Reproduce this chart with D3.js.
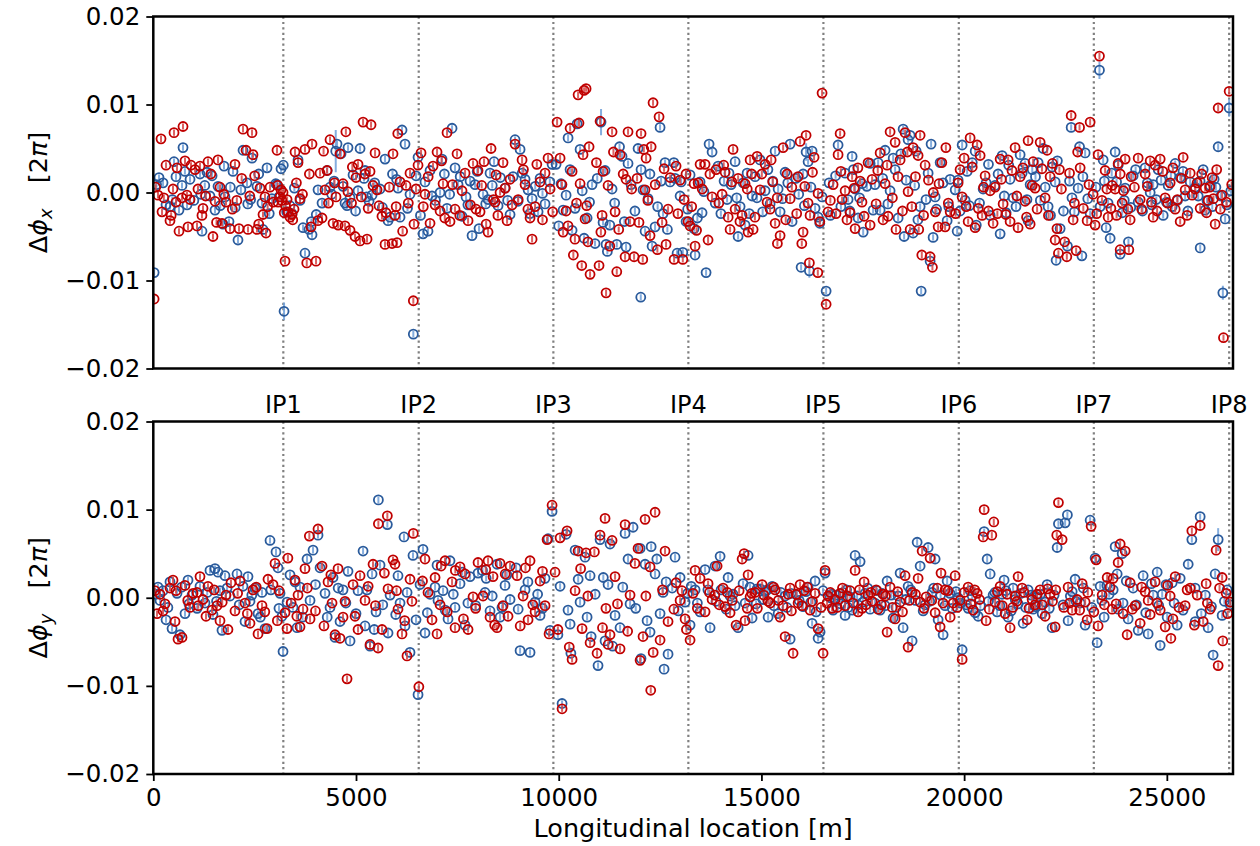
<!DOCTYPE html>
<html>
<head>
<meta charset="utf-8">
<script src="https://cdn.jsdelivr.net/npm/d3@7"></script>
<style>
  body { margin: 0; background: #fff; }
  text { font-family: "DejaVu Sans", sans-serif; }
</style>
</head>
<body>
<div id="chart"></div>
<script>
// IP markers along the ring [m]
const ipLabels = ["IP1", "IP2", "IP3", "IP4", "IP5", "IP6", "IP7", "IP8"];
const ipLocations = [3207, 6547, 9868, 13198, 16529, 19869, 23199, 26537];

const xTicks = [0, 5000, 10000, 15000, 20000, 25000];
const yTicks = [0.02, 0.01, 0.0, -0.01, -0.02];

// [s (m), dphi (1e-3 x 2pi), optional error (1e-3 x 2pi)]
const defaultErr = 0.35;

const dphiXBlue = [
  [20,-9.1],[141,1.7],[240,1.1],[314,-1.4],[412,-1.6],[511,3.5],[560,1.8],[634,-2],[708,0.8],[733,5.1],[832,-1.4],[906,1.5],
  [1152,2.1],[1170,-0.2],[1201,-4.4],[1324,2.3],[1398,-0.4],[1522,-2],[1596,0.7],[1719,-3.6],[1744,3],[1768,-0.5],[1867,-3.3],[1966,2.4],
  [2089,-5.4],[2213,4.8],[2311,1.1],[2330,-1.3],[2435,3.9],[2558,0.7],[2681,-1.2],[2706,-4.2],[2805,2.8],[2928,-0.7],[3051,0.9],[3150,2.7],
  [3020,1.0],[3207,3.1],[3225,-13.5,1],[3372,-1.5],[3422,-2.4],[3570,3.7],[3619,-0.9],[3693,-4],[3742,-6.9],[3841,-4.2],[3915,-4.8],
  [4063,0.3],[4162,-1.2],[4359,0.6],[4458,1.3],[4500,4.7,2.4],[4532,5.5],[4631,4.4],[4729,-1.2],[4779,-1.5],[4803,5.1],[4853,-0.6],[4927,2],
  [5050,0.2],[5100,5],[5198,1.6],[5223,2.5],[5322,-1],[5396,-0.3],[5593,0.4],[5716,3.8],[5790,-3.2],[5840,-2.8],
  [6036,0.5],[6086,-2.8],[6135,7.1],[6209,5.5],[6332,-0.2],[6414,-16.1],[6530,4],[6653,-4.7],[6702,1.2],[6776,-4.4],[6826,2.5],[6875,-0.4],
  [7073,0],[7122,3.8],[7245,-1.8],[7369,7.3],[7443,2.8],[7517,0.9],[7615,-2.7],[7714,-0.5],[7813,1.3],[7862,-4.9],
  [7936,0.9],[8035,-4.1],[8134,-0.2],[8257,-0.8],[8306,2.2],[8405,3.5],[8504,-1.5],[8676,0.5],[8800,-2.5],[8874,1.8],
  [8923,6],[8997,-1],[9047,4.9],[9170,1.5],[9244,0.3],[9343,-0.7],[9491,-2.2],[9540,1.6],[9663,-1.3],[9836,3.2],
  [9935,3.2],[10058,1],[10108,-2],[10182,-0.3],[10231,6.2],[10330,-4.3],[10404,-1.8],[10453,7.8],[10527,4.9],[10626,-5.2],[10700,-2.9],[10823,0.9],
  [10896,-5.8],[11044,8,1.5],[11094,-3.4],[11143,2.5],[11168,-5.9],[11200,-6.7],[11316,0.4],[11432,-5.9],[11562,4.1],[11661,-6.2],[11710,3.3],[11784,0.9],
  [11957,5],[12024,-11.9],[12031,2.6],[12130,-4.4],[12204,-0.7],[12303,-6.1],[12377,-3.9],[12500,7.4],[12525,1.3],[12574,-2.4],[12623,3.4],[12747,1.2],
  [12870,1.6],[12920,-6.9],[12994,-0.4],[13061,-6.8],[13142,-3.3],[13240,2],[13339,-4.1],[13364,-7.1],[13487,1.2],[13536,-2.3],[13635,-9.1],[13709,5.5],[13783,4.6],
  [13931,3],[14079,1.3],[14153,-0.8],[14252,0.9],[14351,3.5],[14425,-5],[14474,-1.6],[14597,-3.7],[14647,2.2],[14770,-0.4],
  [14844,1.8],[14968,3.7],[15091,0.2],[15214,-1.3],[15338,4.7],[15412,0.4],[15461,-2.2],[15584,2.3],[15708,5.5],[15757,-3.3],
  [15979,-8.5],[16028,2.1],[16102,4.6,1],[16151,3.5],[16183,-8.9,0.8],[16250,4.7],[16324,-1.8],[16398,-2.8],[16496,-0.5],[16596,-11.2],[16669,1.1],
  [16891,5.4],[17064,2.2],[17138,-0.8],[17237,4.1],[17311,0.4],[17385,-2.9],[17484,1],[17510,-4.5],[17681,3.3],[17755,-2],
  [17878,3.4],[17928,-2],[18051,4.8],[18174,0.2],[18298,2.6],[18372,-2.9],[18495,7.2],[18520,-5],[18618,6],[18668,6.5],[18742,-4.6],
  [18816,4.7],[18915,-1.6],[18940,-11.2],[19112,2.2],[19161,-7.8],[19185,5.5],[19235,-5.1],[19285,-0.5],[19408,3.4],[19581,-3.2],[19655,1.5],
  [19828,-4.4],[19852,1.4],[19951,5.4],[20025,-0.9],[20074,2.4],[20272,4.7],[20300,-3.7],[20469,0.4],[20543,1.1],[20642,-2.6],
  [20838,2.1],[20888,-4.7],[20937,4.2],[21036,-2.3],[21134,1.5],[21208,-0.6],[21381,4.3],[21504,3.3],[21578,-3.2],[21628,0.9],
  [21825,3.4],[21949,5],[22072,-1.6],[22171,2.9],[22245,1.2],[22269,-7.7],[22368,-4.1],[22548,-6.1],[22640,7.4],[22660,-0.6],
  [22812,0.5],[22847,5.2],[22904,-7.2],[22985,4.5],[23108,-2.4],[23338,13.9,1],[23355,-1.6],[23429,3.7],[23503,-4],[23602,-5.2],
  [23725,4.6],[23799,3.1],[23849,-7],[23898,-2.3],[23972,0.5],[24053,-5.6],[24169,1.9],[24293,-1.1],[24465,2.8],[24589,0],[24663,0.9],
  [24786,2.6],[24910,-2.6],[25033,0.8],[25132,-1.6],[25206,3.3],[25329,1.7],[25452,-0.4],[25576,1.2],[25823,-6.3],
  [25773,-0.4],[25896,2.6],[25945,-2],[26068,0.8],[26167,1.5],[26266,5.2],[26382,-11.4,0.8],[26438,-3],[26537,9.6,1],
  [80,0.9],[470,-0.8],[780,2.4],[1000,-0.9],[1270,0.8],[1450,1.9],[1650,-1.5],[1900,0.6],
  [2020,-1.7],[2160,0.3],[2400,-0.8],[2600,2.1],[2860,-2.4],[3100,-0.5],[3290,-2.2],[3480,0.5],[3900,-3.3],
  [4020,-2.5],[4290,2.5],[4400,-0.2],[4680,0.7],[4990,-2.1],[5260,-0.5],[5460,1.1],[5650,-1.7],[5900,2.1],
  [6000,1.5],[6270,-1.8],[6480,1.9],[6590,-2.6],[6960,-0.9],[7180,2.1],[7310,-0.2],[7570,1.8],[7760,-1.4],
  [7990,2.4],[8200,-1.3],[8360,0.8],[8560,1.7],[8740,-0.9],[9100,2.2],[9290,-2.4],[9420,0.7],[9600,-0.1],[9780,1.2],
  [10000,-3.8],[10280,2.6],[10580,0.2],[10760,-1.1],[10950,1.6],[11260,-3.7],[11380,-1.2],[11500,5.2],[11620,-3.3],
  [11880,-2.1],[12080,0.3],[12250,2.1],[12440,-1.6],[12680,-4.2],[12840,3.4],[13020,1.2],[13180,-1.9],[13420,-2.9],[13580,0.1],
  [13860,-1.2],[14000,-2.4],[14200,2.2],[14390,-0.6],[14550,1.1],[14700,-2.4],[14890,-0.6],[15030,-2.2],[15160,2.6],[15280,1.3],[15520,-0.7],[15650,1.1],
  [15850,1.6],[15920,-0.2],[16060,-1.5],[16220,0.6],[16440,-3.5],[16700,-2.6],[16830,1.9],[16960,-1.6],[17180,-2.1],[17270,2.6],[17420,-0.6],[17600,0.7],
  [17800,0.9],[17990,1.6],[18120,-1.3],[18250,3.9],[18440,4.4],[18570,1.4],[18780,0.8],[18860,-3.1],[19060,-0.8],[19320,-1.9],[19480,1.1],[19620,-1.6],
  [19780,0.3],[19900,-2.1],[20130,-1.5],[20200,3.4],[20380,-1.2],[20600,3.2],[20760,0.8],[20990,-0.4],[21100,3.1],[21280,-1.6],[21430,2.2],[21550,-0.8],[21680,2.6],
  [21760,1.8],[21880,-0.9],[22000,0.6],[22130,-2.6],[22300,3.6],[22450,-2.1],[22600,1.3],[22720,-2.2],[22930,1.8],[23050,-0.7],[23250,0.6],[23460,1.3],[23550,-1.2],[23640,2.2],
  [23760,1.2],[23950,-0.9],[24110,-1.7],[24230,2.6],[24400,-2.1],[24520,1.1],[24630,-1.4],[24740,-0.8],[24860,1.4],[24990,-1.1],[25100,1.9],[25260,-0.9],[25400,2.4],[25520,-2.1],[25700,0.6],
  [25820,1.3],[25990,-0.9],[26120,-1.6],[26210,0.6],[26330,-0.4],[26480,-1.4],[26580,0.2]
];

const dphiXRed = [
  [20,-12.1],[116,-0.3],[190,6.1],[215,-2.2],[314,3.1],[412,-3.2],[486,0.4],[511,6.8],[585,2.8],[634,-4.4],[708,-0.6],[733,7.5],[782,3.6],[856,-3.9],[906,-0.8],[930,3.1],
  [1078,-3.8],[1102,0.4],[1152,3],[1226,-1.8],[1349,3.5],[1472,-5],[1522,-1],[1596,3.7],[1645,0.6],[1694,-3.5],[1793,-1.1],[1892,-4.1],[2015,3.2],
  [2114,-4.1],[2213,7.2],[2287,4.8],[2336,-4.2],[2435,6.8],[2459,4.3],[2558,-4.2],[2632,0.5],[2706,-2.5],[2755,-0.5],[2780,-4.6],[2879,0.6],[3051,4.8],
  [3070,0.8],[3077,-1.1],[3126,-0.5],[3150,0.3],[3200,0],[3249,-7.8],[3260,-1.5],[3323,-2.2],[3372,-2.8],[3422,-2.5],[3471,-1.9],[3496,4.6],[3570,3.4],[3619,-0.7],[3742,4.9],[3785,-8],[3890,-3.9],[3915,5.5],
  [4014,-7.8],[4113,2.2],[4162,-2.9],[4236,0.3],[4285,2.5],[4359,6],[4433,-3.5],[4507,-0.5],[4606,4.4],[4680,1],[4729,-3.8],[4750,6.9],[4853,-4.3],[4890,-1.2],[4910,2.9],
  [4976,-5],[5050,3.2],[5100,-5.5],[5174,8],[5272,-5.3],[5346,2.4],[5371,7.7],[5470,4.5],[5519,0.3],[5568,-1.5],[5716,-5.9],[5740,-2.3],[5889,-5.8],[6012,-5.7],
  [5913,4.4],[5962,-2.6],[6030,6.7],[6086,1.2],[6234,0.8],[6332,2.2],[6414,-12.3],[6430,-3.6],[6530,3.1],[6604,4.5],[6702,-0.2],[6826,-3.5],[6900,3],
  [6999,4.6],[7073,-2.1],[7147,1],[7245,6.8],[7319,-3.3],[7443,-1.9],[7492,4.4],[7615,0.2],[7690,2.2],[7764,-3.2],[7887,3.3],
  [8010,2.5],[8060,-2.2],[8158,3.5],[8257,-4.5],[8331,5],[8430,-1.1],[8455,2],[8553,0],[8627,3.4],[8726,-3.2],[8800,1.5],
  [8923,5.5],[9096,3.7],[9170,0.9],[9293,-2.9],[9343,-5.3],[9417,-1.6],[9540,1.2],[9663,2.2],[9737,3.9],[9787,0.4],[9960,8],
  [10034,3.9],[10108,-4.5],[10182,-2.1],[10281,7.3],[10330,2.4],[10361,-7.1],[10400,-5.3],[10478,11.1],[10500,7.9],[10527,1],[10568,-8.3],[10626,11.6],[10650,-3],[10675,11.8],[10690,-1.5],[10749,5.2],[10773,-9.3],
  [10995,-8.3],[11020,8.1],[11040,-4.5],[11094,2.4],[11168,-11.4],[11217,0.8],[11316,6.9],[11390,-2.2],[11432,-9],[11513,4.3],[11637,-7.3],[11660,1.5],[11710,6.9],[11760,-3.3],[11859,-7.3],
  [11933,1.6],[12031,6.7],[12073,-7.6],[12130,0.3],[12155,3.9],[12253,-4.9],[12280,5.2],[12327,10.2],[12434,-6.5],[12475,8.6],[12599,2.7],[12648,-5.9],[12697,-1.9],
  [12846,-7.6],[12895,3],[12994,1.4],[13061,-7.6],[13092,-0.8],[13191,-3.3],[13240,-3.8],[13339,1],[13364,-6.1],[13438,1.1],[13487,3.2],[13610,3.2],[13684,-5.4],[13783,-0.5],
  [13882,2.6],[14030,-0.2],[14104,2.3],[14227,-4.2],[14301,4.9],[14351,-1.9],[14425,1.6],[14524,-2.6],[14597,1],[14671,-4.5],[14721,3.7],[14795,-4.2],
  [14894,4.1],[14968,0.3],[15091,3.2],[15214,-1.9],[15240,3.7],[15338,-3.5],[15394,-5.8],[15461,-4.9],[15535,5.1],[15634,2.1],[15708,-0.7],
  [15904,1.8],[15954,5.8],[15996,-5.8],[16028,-4.5],[16102,6.5],[16183,-8],[16200,-2.6],[16299,4],[16391,-9.1],[16398,-0.1],[16496,11.3],[16596,-12.7],[16644,-2.2],[16768,0.9],
  [16891,4.3],[16941,6.7],[16990,-0.8],[17064,0.2],[17187,-2.3],[17237,1.8],[17311,-4.1],[17434,1.3],[17533,-2.7],[17631,3.4],[17681,-3.7],
  [17829,-1.3],[17928,4.5],[18051,1],[18125,-2.7],[18174,6.9],[18298,5.7],[18320,-4.2],[18421,3.7],[18544,6.8],[18618,0.1],[18668,-4.2],[18742,5.1],
  [18865,4.2],[18915,6.5],[18956,-7.1],[19038,3.1],[19161,-7.3],[19218,-8.5],[19240,0],[19359,-3.9],[19380,1],[19531,-3.9],[19550,5.1],[19655,-2.2],
  [19852,1.1],[19951,-0.5],[20000,3.9],[20099,-3.3],[20148,6.2],[20272,-4],[20321,5.4],[20395,4.2],[20444,-2.6],[20518,1.9],[20642,0.2],[20715,-3.5],
  [20764,0.6],[20888,3.8],[20962,-1.3],[21085,3.7],[21134,-3.3],[21257,5.1],[21331,-4],[21381,1.8],[21504,-1],[21578,5.9],[21628,-3.6],[21702,3.5],
  [21751,0.5],[21875,5.7],[21998,-0.6],[22047,4.8],[22121,1.8],[22245,-5.4],[22326,-6.9],[22350,2.6],[22533,-7.3],[22640,8.75],[22689,-3.1],
  [22763,-6.6],[22847,7.4],[22862,2.8],[23034,-3.2],[23108,8],[23182,-0.2],[23231,-3.7],[23305,4.3],[23338,15.5],[23478,2.5],[23552,-2.8],[23651,0.8],
  [23725,0.4],[23799,3.3],[23849,-6.5],[23898,-1.2],[23972,3.8],[24063,-6.5],[24095,-3.1],[24120,1.8],[24293,3.9],[24342,-0.8],[24465,2.1],[24589,3.6],[24663,-2.8],
  [24712,3.1],[24836,3.8],[24959,-0.6],[25082,1.1],[25206,-1.9],[25329,-3.3],[25403,4],[25452,0.3],[25576,2.2],[25625,-0.3],
  [25748,1.1],[25822,-1.8],[25945,0.5],[26019,-0.9],[26118,1.7],[26192,-3.6],[26266,9.6],[26364,-0.3],[26397,-16.5],[26537,11.5],
  [60,0.6],[260,-0.6],[440,-2.6],[560,-1.1],[830,-0.3],[1030,2.6],[1200,-2.6],[1290,-0.4],[1420,2.1],[1560,-3.4],[1740,-0.2],[1950,-1.9],
  [2060,-0.9],[2180,1.6],[2380,-0.4],[2500,1.9],[2600,-3.6],[2820,-1.6],[2960,-1.1],[3170,-0.9],[3230,-2.3],[3300,-0.8],[3440,-3.1],[3530,1.1],[3680,-0.2],[3850,2.1],
  [4060,-3.2],[4200,4.7],[4320,-1.2],[4470,1.1],[4560,-3.7],[4800,0.1],[5000,1.7],[5130,-0.5],[5220,2.1],[5300,-1.8],[5420,0.8],[5640,-2.7],[5820,0.6],
  [5990,-1.6],[6150,-4.4],[6290,-1.2],[6480,0.4],[6660,-1.6],[6780,1.8],[6950,-1.4],[7110,3.6],[7190,-2.9],[7380,0.9],[7560,-2.6],[7820,-1.4],
  [7960,-1.9],[8100,0.8],[8210,-3.6],[8390,-0.8],[8500,-2.6],[8680,0.5],[8850,-1.4],[9000,-0.8],[9130,2.6],[9240,-1.9],[9460,3.2],[9600,-3.1],[9850,-2.2],
  [10080,0.9],[10230,-3.8],[10440,-1.2],[10600,4.3],[10720,-5.6],[10930,3.4],[11070,-2.6],[11260,-6.1],[11350,4.6],[11480,-4.2],[11590,2.1],[11800,0.4],
  [11980,-3.4],[12100,4.9],[12200,-0.9],[12380,0.9],[12550,-3.4],[12750,1.7],[12940,-2.4],[13140,2.1],[13280,-1.6],[13400,-4.3],[13540,0.4],[13730,2.1],
  [13950,-1.2],[14070,3.1],[14180,-2.8],[14270,1.2],[14470,-3.3],[14650,0.4],[14760,2.1],[14840,-2.8],[15010,2.1],[15140,-1.1],[15280,1.2],[15390,-0.6],[15600,-3.1],[15750,0.6],
  [15870,-2.4],[16070,0.7],[16150,-1.2],[16260,2.3],[16440,-3.3],[16700,-0.9],[16840,-2.4],[16960,2.4],[17110,-3.1],[17290,0.5],[17380,2.8],[17480,-1.1],[17730,1.5],
  [17870,2.5],[18000,-3.1],[18100,3.1],[18230,-0.6],[18370,1.8],[18480,-2.1],[18600,4.6],[18710,-1.6],[18800,1.8],[18880,-4.2],[19000,-2.6],[19120,1.4],[19290,-2.2],[19450,3.4],[19610,-1.2],
  [19790,-2.4],[19900,2.6],[20050,-1.6],[20200,2.9],[20350,-1.8],[20480,0.6],[20600,-2.1],[20820,-2.4],[20920,1.5],[21030,-2.5],[21180,2.5],[21300,-0.4],[21450,2.8],[21540,-2.8],[21680,0.8],
  [21800,-1.9],[21920,2.7],[22080,-2.6],[22180,3.3],[22290,-4.1],[22400,0.4],[22480,-5.6],[22600,2.2],[22720,-1.2],[22800,4.6],[22940,-1.8],[23080,0.9],[23270,-2.4],[23400,-0.9],[23520,0.4],[23620,-1.8],
  [23760,-2.6],[23850,2.1],[23930,0.2],[24040,-1.9],[24200,0.6],[24380,-1.9],[24520,0.7],[24620,-1.1],[24760,-2.1],[24900,2.4],[25020,-1.2],[25150,2.8],[25260,-0.8],[25360,1.6],[25500,-2.6],[25700,0.4],
  [25860,2.1],[25980,-2.3],[26060,0.6],[26150,-0.7],[26230,2.6],[26320,-1.9],[26470,-1.1],[26600,0.9]
];

const dphiYBlue = [
  [116,1.2],[166,-0.3],[240,0.8],[314,-2.5],[412,1.8],[462,-3.5],[585,0.5],[659,-4.2],[782,-1.8],[856,2],[955,0.3],
  [1152,1.3],[1275,-0.6],[1398,3.1],[1472,-1.9],[1522,3.3],[1596,2.9],[1645,0.8],[1694,-3.7],[1768,2.5],[1892,0.2],
  [2065,2.7],[2213,1.3],[2262,-2.7],[2336,2.4],[2385,-0.4],[2509,1.1],[2583,-1.8],[2681,0.6],[2755,-3.5],[2879,6.5],
  [3027,5.2],[3076,3.4],[3126,0.5],[3175,-2.1],[3200,-6.1],[3372,2.6],[3446,-1.1],[3496,1.8],[3545,-3.4],[3619,1.2],[3792,4.4],[3866,-0.3],
  [3940,5.4],[4063,7.1],[4113,3.4],[4236,0.5],[4359,-1.1],[4433,2.3],[4483,-4.5],[4606,-2.7],[4680,0.9],[4803,3],[4853,-4.9],
  [5050,0.8],[5174,5.3],[5223,-3.2],[5346,-5.5],[5396,2.7],[5494,-1.6],[5552,11.1],[5593,3.7],[5773,8.3],[5790,-4],[5840,0.3],
  [6036,2.5],[6086,-0.6],[6184,6.9],[6209,-3.2],[6332,-6.2],[6406,4.8],[6530,-11],[6579,1.5],[6653,5.5],[6702,-4],[6826,0.4],
  [6999,3.7],[7023,-0.3],[7147,0.8],[7270,-2.4],[7319,4.2],[7443,-1.1],[7566,1.6],[7690,-3.1],[7813,2.4],
  [8010,2.8],[8183,0.6],[8210,2.2],[8306,-1.5],[8479,3.8],[8553,-2.2],[8676,1.4],[8800,-0.2],
  [8948,3.4],[9047,-6],[9170,0.9],[9293,-6.2],[9417,-0.5],[9540,-2],[9663,2.2],[9737,6.7],[9787,-3.7],[9836,9.8],
  [10034,1.3],[10083,-12],[10182,7.2],[10281,-3],[10300,-6.3],[10404,5.4],[10527,-0.5],[10650,4.6],[10774,2.5],[10800,-4.4],
  [10970,-7.7],[11020,6.6],[11143,-4.9],[11217,1.5],[11266,6.1],[11390,-2],[11513,-3.4],[11637,7.3],[11710,4.4],[11760,-0.7],
  [11834,8],[12007,5.6],[12030,-6.9],[12130,3.8],[12253,-3.9],[12280,5.8],[12377,2.7],[12500,-1.8],[12574,0.6],[12697,-6.4],
  [12599,-8.1],[12870,4.6],[12994,2.3],[13117,-0.5],[13240,-3.1],[13270,1.3],[13364,0.9],[13487,-1.6],[13610,3.2],[13734,-3.4],
  [13857,3.6],[13981,4.7],[14178,2.3],[14227,0.2],[14351,-0.9],[14425,-3.4],[14548,1.6],[14671,4.8],[14770,-2.3],
  [14894,1],[14968,1],[15091,0.7],[15165,-2.2],[15264,1.3],[15412,-1.8],[15584,0.2],[15708,-4.7],[15730,0.5],
  [15880,0.3],[16028,-1],[16151,1.2],[16250,-2.9],[16324,1.9],[16398,-4.6],[16447,-3.9],[16570,2.8],[16694,0],[16768,-1.4],
  [16891,-0.3],[17015,0.6],[17064,-2],[17138,-1.1],[17187,0.1],[17311,4.8],[17385,-0.8],[17434,4.1],[17557,0.5],[17681,-1.3],
  [17854,0.8],[17928,-1.4],[18100,1.9],[18248,-2.3],[18372,0.2],[18421,2.8],[18495,-3.4],[18618,1.3],[18717,-4.9],
  [18841,6.3],[18915,3.6],[19038,-0.8],[19112,5.7],[19211,0.6],[19285,4.4],[19359,-2.5],[19482,-4.2],[19581,1.9],[19704,-1.2],
  [19852,0],[19951,-5.9],[20050,-0.8],[20148,0.8],[20272,-1.7],[20346,-2.1],[20494,7.5],[20568,4.4],[20642,2.7],[20715,0.3],
  [20814,-1.6],[20937,0.4],[20986,2],[21085,-2.2],[21208,1.1],[21331,-0.7],[21455,-2.9],[21578,0.9],[21702,-1.3],
  [21801,0.1],[21924,-1.8],[22047,1.5],[22171,-3.4],[22294,5.7],[22326,8.4],[22491,8.5],[22547,9.4],[22565,-2.6],[22664,0.7],
  [22738,2.1],[22862,-0.6],[22985,-3.1],[23108,8.8],[23231,4.5],[23281,-5.1],[23355,1.3],[23453,-2.2],[23577,0.4],[23676,0.9],
  [23725,5.8],[23775,2.7],[23898,5],[23920,-0.6],[24046,-2.4],[24169,1.1],[24293,-3.7],[24416,2.5],[24539,-4.1],[24663,0.3],
  [24762,2.9],[24836,-5.4],[24885,0.4],[25008,-2.2],[25132,1.7],[25255,-3.1],[25329,2.2],[25527,3.8],[25617,6.6],
  [25698,1.1],[25822,9.2],[25850,-1.8],[26019,-3.4],[26142,-6.5],[26192,2.7],[26266,6.6,1.3],[26364,-2],[26488,0.9],[26562,-0.8],
  [60,0.4],[360,-1.1],[700,1.2],[880,-0.7],[1080,-1.2],[1330,0.6],[1560,-0.4],[1820,1.1],[2120,-0.8],[2430,0.3],[2640,-2.2],[2900,0.9],
  [3100,-1.2],[3300,-0.5],[3680,-2.2],[4000,1.5],[4290,-2.2],[4560,1.1],[4750,-0.6],[5000,-1.8],[5270,0.9],[5450,-3.6],[5660,-0.8],
  [5980,-1.9],[6260,0.6],[6480,-2.5],[6760,-1.7],[6950,1.2],[7200,-1.4],[7400,0.4],[7620,2.9],[7760,-0.6],
  [7950,-0.9],[8120,3.1],[8360,0.2],[8600,-1.1],[8720,2.6],[9000,-1.3],[9240,1.8],[9480,0.4],[9600,-1.2],
  [9980,-4.2],[10230,-1.4],[10480,2.1],[10700,-2.2],[10900,0.4],[11100,2.3],[11330,-5.5],[11580,1.2],
  [11900,-1.2],[12180,-2.6],[12420,4.4],[12650,1.8],[12800,1.1],[12950,-1.5],[13180,0.5],[13420,-0.6],[13680,0.9],
  [13880,-0.4],[14005,0.9],[14130,-1.3],[14300,0.4],[14600,-0.6],[14720,1.2],[14870,-0.7],[15040,-0.2],[15140,0.9],[15310,-0.9],[15480,0.6],[15630,-1.1],
  [15930,-0.3],[16100,0.7],[16220,-0.5],[16350,-1.6],[16520,0.8],[16740,0.4],[16840,0.3],[16960,-0.7],[17100,0.9],[17240,-1.4],[17360,0.2],[17500,-0.5],[17620,1.1],
  [17800,-0.6],[17980,0.5],[18050,-0.9],[18200,0.3],[18320,-1.1],[18560,-0.2],[18680,0.9],[18800,-0.3],[18990,-1.5],[19150,-0.4],[19250,1.1],[19420,0.3],[19530,-0.9],[19650,0.5],
  [19800,0.7],[19900,-0.6],[20100,-1.2],[20200,0.2],[20400,-0.9],[20600,-0.4],[20760,0.6],[20880,-0.9],[21030,0.8],[21160,-1.5],[21260,-0.2],[21400,0.5],[21520,-1.1],[21650,0.3],
  [21760,-1],[21880,0.4],[22000,-0.5],[22100,-1.2],[22220,0.3],[22440,-0.8],[22620,0.2],
  [22760,-0.4],[22940,1.1],[23150,-1.1],[23400,-0.3],[23520,1.4],[23800,-1.3],[24000,1.9],[24250,-0.8],[24480,-1.7],[24620,1.6],
  [24800,-0.9],[24980,1.5],[25180,-0.6],[25400,-1.4],[25700,-2.7],[25950,0.3],[26100,-1],[26420,-0.4]
];

const dphiYRed = [
  [92,-1.8],[166,0.4],[289,-0.7],[412,1.1],[486,2],[536,-2.7],[610,-4.7],[708,-4.5],[782,1.4],[906,-1.1],[980,0.5],
  [1078,0.6],[1152,2.4],[1226,-0.2],[1349,1.3],[1448,-1.4],[1571,-0.9],[1645,-2.6],[1793,0.3],[1842,-3.6],[1916,1.7],
  [2015,-1.5],[2139,1.9],[2262,-0.6],[2385,-2.9],[2459,0.9],[2583,-4.1],[2681,-0.9],[2805,-3.5],[2829,2.1],[2953,1.5],
  [3002,3.9],[3101,0.8],[3249,-1.7],[3298,-3.5],[3320,4.5],[3496,2],[3570,0.3],[3619,-3.3],[3693,-1.3],[3742,3.3],[3849,7],[3866,-2.4],
  [4063,7.8],[4162,3.6],[4310,1.8],[4409,-0.6],[4483,-4.2],[4557,3.3],[4606,-4.6],[4729,-0.4],[4779,-9.2],[4927,1.5],
  [4976,-2.1],[5100,2.5],[5223,-0.3],[5346,-5.3],[5420,3.8],[5544,-5.7],[5552,8.4],[5642,-3.6],[5773,9.3],[5790,1],[5913,4.3],
  [5962,3.8],[6036,-1.3],[6135,-4.1],[6258,-6.6],[6332,2.1],[6414,7.3],[6550,-10.1],[6702,4.4],[6776,0.6],[6875,-2.5],
  [6999,-4.1],[7073,-0.8],[7100,3.6],[7196,4.2],[7369,1.8],[7443,-3.4],[7566,3.5],[7690,2.7],[7764,-3.6],[7887,0.1],
  [8010,4],[8134,0.2],[8257,4.2],[8306,-2.2],[8380,2.4],[8479,-3.4],[8553,3.9],[8627,-0.9],[8750,-2.1],[8800,3.6],
  [8973,2.5],[9121,0.2],[9244,-2.5],[9293,4.2],[9417,-1.6],[9540,1.9],[9663,-0.9],[9713,6.6],[9762,-4.1],[9836,10.5],
  [9910,2.9],[10034,6.8],[10083,-12.6],[10206,7.6],[10330,-7],[10404,0.8],[10478,5.3],[10576,-3.5],[10675,5.1],[10774,-5.1],
  [10946,-6.3],[11020,7.1],[11143,9],[11165,-1.2],[11266,-4.2],[11316,6.5],[11390,2.4],[11513,-5.8],[11637,8.3],[11760,0.3],
  [11957,5.6],[12007,-7.1],[12130,8.9],[12150,0.2],[12253,3.5],[12270,-10.5],[12377,9.7],[12500,-4.8],[12623,5.3],[12697,-2.7],
  [12895,1.7],[12994,-0.3],[13117,-2.4],[13240,-4.8],[13314,0.5],[13364,3.1],[13487,2.2],[13610,-1.6],[13684,1.6],[13783,-0.2],
  [13907,3.6],[14055,1.1],[14104,-1],[14227,-1.7],[14375,-3.1],[14524,4.4],[14573,5],[14597,-2.6],[14671,2.6],[14721,0.1],
  [14844,0.6],[15017,1.5],[15165,-0.4],[15338,0.9],[15461,-2.2],[15535,-0.9],[15584,-4.4],[15708,1.1],[15781,-6.3],
  [15904,-0.6],[15954,1.5],[16052,0.8],[16200,-1.4],[16324,0.5],[16398,-3.5],[16521,-6.3],[16570,3.1],[16644,0.2],[16743,-1.2],
  [16817,-0.2],[16941,0.5],[17064,-0.9],[17187,0.8],[17311,3.1],[17385,-1.6],[17484,-1.2],[17533,1.8],[17631,0.3],[17730,-0.4],
  [17878,-1.3],[18002,0.4],[18100,-3.9],[18174,1.2],[18298,-2.4],[18421,-0.5],[18544,2.5],[18618,-5.6],[18717,0.6],
  [18865,2.2],[18964,5.3],[19063,0.1],[19161,4.5],[19285,-1.7],[19408,-3.3],[19430,2.8],[19531,0.9],[19655,-2.2],[19729,-0.6],
  [19778,2.5],[19902,-0.3],[19951,-7],[20099,1.2],[20222,-1.4],[20321,0.5],[20470,6.9],[20494,10],[20543,-2.6],[20683,7.1],[20732,8.6],
  [20764,-0.5],[20888,1.3],[21011,-1.8],[21134,-3.4],[21257,0.2],[21331,2.4],[21430,1.1],[21554,-2.5],[21677,-0.2],
  [21751,-0.8],[21875,0.9],[21998,-2.1],[22121,0.4],[22245,-3.3],[22285,7.1],[22326,10.8],[22417,6.6],[22565,1.2],[22664,-1.4],
  [22788,-0.2],[22911,1.6],[22985,-0.5],[23034,-2.5],[23133,8.1],[23256,4.3],[23305,-3.2],[23404,0.3],[23528,2.3],[23651,-1.3],
  [23676,2.2],[23799,4],[23849,6.1],[23972,5.3],[24021,-4.2],[24095,1.7],[24219,-0.9],[24342,-2.9],[24465,0.7],[24589,-1.9],
  [24712,1.8],[24836,-1.4],[24959,-3.3],[25082,0.2],[25100,-4.6],[25206,2.4],[25452,-0.9],[25576,1.1],[25617,7.6],
  [25748,0.3],[25822,8.2],[25896,-2.7],[25970,1.6],[26068,-1.3],[26216,5.4],[26266,-7.7],[26364,2.3],[26380,-4.9],[26463,0.5],[26562,-0.5],
  [40,0.8],[240,-1.5],[560,0.8],[850,-0.3],[1110,-0.9],[1300,-2.1],[1500,0.9],[1700,-0.5],[2080,0.5],[2320,-1.8],[2540,1.2],[2750,-1.6],
  [3060,-2.6],[3400,-0.6],[3540,-2.1],[3800,1.1],[4000,-1.5],[4210,-3.2],[4380,2.6],[4680,-2.2],[5050,-3.6],[5300,1.3],[5480,-0.9],[5700,2.8],
  [6000,0.8],[6200,-2.6],[6380,-0.4],[6640,1.9],[6950,2.3],[7250,-1.6],[7450,3.1],[7650,-2.4],[7950,-1.2],[8200,3.2],[8420,-3.1],[8680,2.7],
  [9050,-3.2],[9180,3.4],[9360,-0.8],[9600,3],[9980,-3.6],[10260,-5.6],[10540,3.3],[10720,0.2],
  [10880,5.2],[11080,-3.4],[11220,-5.3],[11450,-0.7],[11700,-3.8],[11880,3.9],[12080,-4.4],[12330,-6.2],[12560,0.9],
  [12840,-1.3],[13040,0.8],[13150,-3.6],[13420,-1.2],[13720,0.6],
  [13850,0.3],[13960,-0.8],[14160,0.6],[14280,-0.3],[14450,0.8],[14650,-1.2],[14760,0.5],[14900,-1.2],[15060,0.3],[15220,-0.6],[15300,1.2],[15420,-0.3],[15660,0.4],[15740,-1.5],
  [15860,0.4],[16000,-0.9],[16130,1.2],[16260,-0.4],[16470,-1.1],[16620,-0.6],[16700,0.6],[16870,-1.1],[17000,1.1],[17120,0.2],[17260,-0.6],[17420,0.9],[17580,-0.8],[17700,0.6],
  [17830,0.9],[17960,-0.8],[18060,0.2],[18230,-1.1],[18360,0.7],[18480,-1.6],[18650,-0.3],[18800,0.4],[18920,-0.5],[19010,-1.2],[19200,-0.3],[19340,1.1],[19480,-0.6],[19600,0.8],
  [19830,-1.1],[20000,0.6],[20160,-0.7],[20260,0.9],[20380,-0.2],[20620,-1.3],[20820,0.7],[20940,-0.9],[21060,0.4],[21200,-1.1],[21300,-0.4],[21480,0.6],[21600,-1.2],
  [21800,0.4],[21930,-0.8],[22060,1],[22180,-0.4],[22260,0.9],[22460,-1.1],[22600,-0.6],
  [22850,-1.4],[23050,0.6],[23200,-1.6],[23460,-0.8],[23600,1.2],[23750,-0.7],[23920,-1.8],[24150,-1.3],[24380,1.2],[24540,-0.3],
  [24760,-0.6],[25020,1.4],[25150,-2.4],[25300,-1.1],[25500,0.9],[25680,-3.1],[26000,-0.6],[26300,1.1],[26500,-1.8]
];

const W = 1260, H = 846;
const tickFont = 24.5, labelFont = 25.5, ipFont = 24;
const blueColor = "#2a5b9c", blueErr = "#6f9fd8";
const redColor = "#c00000", redErr = "#d64545";

const svg = d3.select("#chart").append("svg")
    .attr("width", W)
    .attr("height", H);

const x = d3.scaleLinear()
    .domain([0, 26632])
    .range([153.3, 1233]);

const panels = [
    { top: 16.5, bottom: 368.5, blue: dphiXBlue, red: dphiXRed, sub: "x", showX: false },
    { top: 421.5, bottom: 774, blue: dphiYBlue, red: dphiYRed, sub: "y", showX: true }
];

const fmtY = d3.format(".2f");

panels.forEach((p, i) => {
    const y = d3.scaleLinear()
        .domain([-0.02, 0.02])
        .range([p.bottom, p.top]);

    const g = svg.append("g");

    // clip markers to the axes box, like matplotlib does
    g.append("clipPath")
        .attr("id", "clip" + i)
        .append("rect")
        .attr("x", x.range()[0])
        .attr("y", p.top)
        .attr("width", x.range()[1] - x.range()[0])
        .attr("height", p.bottom - p.top);

    const plot = g.append("g").attr("clip-path", `url(#clip${i})`);

    // dotted IP lines
    plot.selectAll("line.ip")
        .data(ipLocations)
        .join("line")
        .attr("class", "ip")
        .attr("x1", d => x(d)).attr("x2", d => x(d))
        .attr("y1", p.top).attr("y2", p.bottom)
        .attr("stroke", "#808080")
        .attr("stroke-width", 2.2)
        .attr("stroke-dasharray", "2.2,3.2");

    drawSeries(plot, p.blue, blueColor, blueErr, y);
    drawSeries(plot, p.red, redColor, redErr, y);

    // y axis
    const yAxis = g.append("g")
        .attr("transform", `translate(${x.range()[0]},0)`)
        .call(d3.axisLeft(y)
            .tickValues(yTicks)
            .tickFormat(d => fmtY(d))
            .tickSize(7)
            .tickPadding(6));
    styleAxis(yAxis);

    if (p.showX) {
        const xAxis = g.append("g")
            .attr("transform", `translate(0,${p.bottom})`)
            .call(d3.axisBottom(x)
                .tickValues(xTicks)
                .tickFormat(d3.format("d"))
                .tickSize(7)
                .tickPadding(8));
        styleAxis(xAxis);
    }

    // frame
    g.append("rect")
        .attr("x", x.range()[0])
        .attr("y", p.top)
        .attr("width", x.range()[1] - x.range()[0])
        .attr("height", p.bottom - p.top)
        .attr("fill", "none")
        .attr("stroke", "#000")
        .attr("stroke-width", 2.5);

    // y label: Δϕx  [2π]
    const lab = g.append("text")
        .attr("transform", `translate(47,${(p.top + p.bottom) / 2}) rotate(-90)`)
        .attr("text-anchor", "middle")
        .style("font-size", labelFont + "px")
        .attr("fill", "#000");
    lab.append("tspan").text("Δ");
    lab.append("tspan").attr("font-style", "italic").text("ϕ");
    lab.append("tspan").attr("font-style", "italic").style("font-size", "18px").attr("dy", 5).text(p.sub);
    lab.append("tspan").attr("dy", -5).attr("dx", 25).text("[2");
    lab.append("tspan").attr("font-style", "italic").text("π");
    lab.append("tspan").text("]");
});

// IP labels between the panels
svg.append("g").selectAll("text")
    .data(ipLocations)
    .join("text")
    .attr("x", d => x(d))
    .attr("y", 413)
    .attr("text-anchor", "middle")
    .style("font-size", ipFont + "px")
    .text((d, i) => ipLabels[i]);

// x label
svg.append("text")
    .attr("x", (x.range()[0] + x.range()[1]) / 2)
    .attr("y", 837)
    .attr("text-anchor", "middle")
    .style("font-size", labelFont + "px")
    .text("Longitudinal location [m]");

function drawSeries(g, data, color, ecolor, y) {
    const pts = data.map(d => ({ s: d[0], v: d[1] * 1e-3, e: (d.length > 2 ? d[2] : defaultErr) * 1e-3 }));
    const s = g.append("g");
    s.append("g").selectAll("line")
        .data(pts)
        .join("line")
        .attr("x1", d => x(d.s)).attr("x2", d => x(d.s))
        .attr("y1", d => y(d.v - d.e)).attr("y2", d => y(d.v + d.e))
        .attr("stroke", ecolor)
        .attr("stroke-width", 2)
        .attr("stroke-opacity", 0.85);
    s.append("g").selectAll("circle")
        .data(pts)
        .join("circle")
        .attr("cx", d => x(d.s))
        .attr("cy", d => y(d.v))
        .attr("r", 4.5)
        .attr("fill", "none")
        .attr("stroke", color)
        .attr("stroke-width", 1.8);
}

function styleAxis(ax) {
    ax.select(".domain").remove();
    ax.selectAll(".tick line").attr("stroke", "#000").attr("stroke-width", 1.8);
    ax.selectAll(".tick text")
        .attr("fill", "#000")
        .style("font-size", tickFont + "px")
        .style("font-family", "'DejaVu Sans', sans-serif");
}
</script>
</body>
</html>
